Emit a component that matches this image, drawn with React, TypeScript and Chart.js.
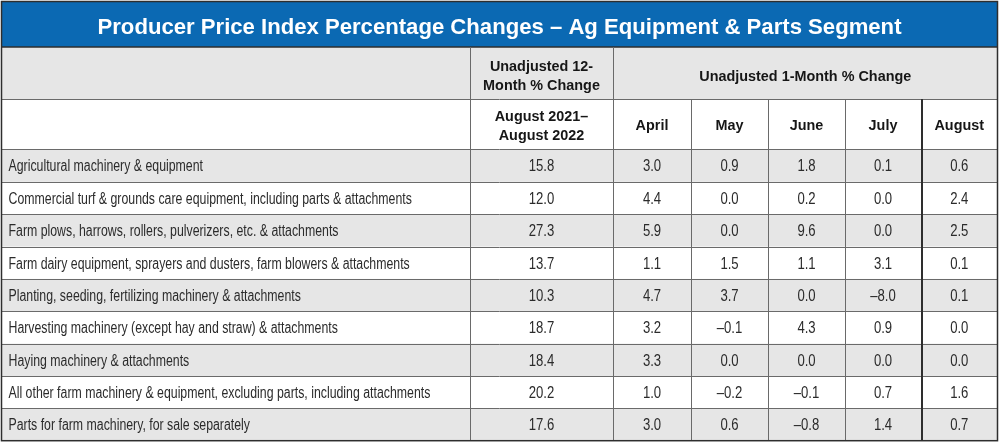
import React, { useEffect, useRef } from "react";
import { Chart, registerables } from "chart.js";

Chart.register(...registerables);

// ---------- data ----------
const TITLE = "Producer Price Index Percentage Changes \u2013 Ag Equipment & Parts Segment";
const HEADER_12M = ["Unadjusted 12-", "Month % Change"];
const HEADER_1M = "Unadjusted 1-Month % Change";
const PERIOD_12M = ["August 2021\u2013", "August 2022"];
const MONTHS = ["April", "May", "June", "July", "August"];

const CATEGORIES = [
  "Agricultural machinery & equipment",
  "Commercial turf & grounds care equipment, including parts & attachments",
  "Farm plows, harrows, rollers, pulverizers, etc. & attachments",
  "Farm dairy equipment, sprayers and dusters, farm blowers & attachments",
  "Planting, seeding, fertilizing machinery & attachments",
  "Harvesting machinery (except hay and straw) & attachments",
  "Haying machinery & attachments",
  "All other farm machinery & equipment, excluding parts, including attachments",
  "Parts for farm machinery, for sale separately",
];

const CHANGE_12M = [15.8, 12.0, 27.3, 13.7, 10.3, 18.7, 18.4, 20.2, 17.6];
const APRIL = [3.0, 4.4, 5.9, 1.1, 4.7, 3.2, 3.3, 1.0, 3.0];
const MAY = [0.9, 0.0, 0.0, 1.5, 3.7, -0.1, 0.0, -0.2, 0.6];
const JUNE = [1.8, 0.2, 9.6, 1.1, 0.0, 4.3, 0.0, -0.1, -0.8];
const JULY = [0.1, 0.0, 0.0, 3.1, -8.0, 0.9, 0.0, 0.7, 1.4];
const AUGUST = [0.6, 2.4, 2.5, 0.1, 0.1, 0.0, 0.0, 1.6, 0.7];

const VALUE_COLUMNS = [CHANGE_12M, APRIL, MAY, JUNE, JULY, AUGUST];
const VALUE_NAMES = ["12-Month", ...MONTHS];

// ---------- layout (pixels) ----------
const W = 1000;
const H = 443;
const COL_EDGES = [1.5, 470, 613, 691, 768, 845, 921, 997.5];
const TITLE_BOTTOM = 47;
const HEAD1_BOTTOM = 99;
const HEAD2_BOTTOM = 149.5;
const TABLE_BOTTOM = 440.7;
const TITLE_WIDTH = 804;

const BLUE = "#0b69b3";
const GRAY = "#e6e6e6";
const LINE = "#6a6a6a";
const DARK = "#2e2e2e";
const BODY_TEXT = "#2b2b2b";
const HEAD_TEXT = "#161616";
const FONT = "'Liberation Sans', Arial, sans-serif";

const fmt = (v: number) => {
  const s = Math.abs(v).toFixed(1);
  return v < 0 ? "\u2013" + s : s;
};

function drawText(
  ctx: CanvasRenderingContext2D,
  text: string,
  x: number,
  y: number,
  font: string,
  color: string,
  align: CanvasTextAlign,
  sx: number
) {
  ctx.save();
  ctx.font = font;
  ctx.fillStyle = color;
  ctx.textAlign = align;
  ctx.textBaseline = "alphabetic";
  ctx.translate(x, y);
  ctx.scale(sx, 1);
  ctx.fillText(text, 0, 0);
  ctx.restore();
}

const tablePlugin = {
  id: "tableDraw",
  beforeDraw(chart: any) {
    const ctx: CanvasRenderingContext2D = chart.ctx;
    ctx.save();
    ctx.fillStyle = "#ffffff";
    ctx.fillRect(0, 0, W, H);
    ctx.restore();
  },
  afterDatasetsDraw(chart: any) {
    const ctx: CanvasRenderingContext2D = chart.ctx;
    const xs = chart.scales.x;
    const ys = chart.scales.y;
    const px = (v: number) => xs.getPixelForValue(v);
    const left = px(COL_EDGES[0]);
    const right = px(COL_EDGES[COL_EDGES.length - 1]);
    const rowH = ys.getPixelForValue(1) - ys.getPixelForValue(0);

    ctx.save();
    // title band
    ctx.fillStyle = BLUE;
    ctx.fillRect(left, 1.5, right - left, TITLE_BOTTOM - 1.5);
    // header row 1
    ctx.fillStyle = GRAY;
    ctx.fillRect(left, TITLE_BOTTOM, right - left, HEAD1_BOTTOM - TITLE_BOTTOM);
    // data rows stripes
    CATEGORIES.forEach((_, i) => {
      if (i % 2 === 0) {
        const cy = ys.getPixelForValue(i);
        ctx.fillStyle = GRAY;
        ctx.fillRect(left, cy - rowH / 2, right - left, rowH);
      }
    });

    // horizontal lines
    const hline = (y: number, color: string, lw: number) => {
      ctx.beginPath();
      ctx.strokeStyle = color;
      ctx.lineWidth = lw;
      ctx.moveTo(left, y);
      ctx.lineTo(right, y);
      ctx.stroke();
    };
    hline(HEAD1_BOTTOM + 0.5, LINE, 1);
    hline(HEAD2_BOTTOM, LINE, 1);
    CATEGORIES.forEach((_, i) => {
      if (i > 0) {
        const cy = ys.getPixelForValue(i);
        hline(Math.round(cy - rowH / 2) + 0.5, LINE, 1);
      }
    });
    hline(TITLE_BOTTOM, DARK, 1.5);

    // vertical lines
    const vline = (x: number, y0: number, y1: number, color: string, lw: number) => {
      ctx.beginPath();
      ctx.strokeStyle = color;
      ctx.lineWidth = lw;
      ctx.moveTo(x, y0);
      ctx.lineTo(x, y1);
      ctx.stroke();
    };
    vline(px(COL_EDGES[1]) + 0.5, TITLE_BOTTOM, TABLE_BOTTOM, LINE, 1);
    vline(px(COL_EDGES[2]) + 0.5, TITLE_BOTTOM, TABLE_BOTTOM, LINE, 1);
    for (let c = 3; c < COL_EDGES.length - 2; c++) {
      vline(px(COL_EDGES[c]) + 0.5, HEAD1_BOTTOM, TABLE_BOTTOM, LINE, 1);
    }
    vline(px(COL_EDGES[COL_EDGES.length - 2]) + 1, HEAD1_BOTTOM, TABLE_BOTTOM, DARK, 2);

    // outer border
    ctx.strokeStyle = DARK;
    ctx.lineWidth = 1.5;
    ctx.strokeRect(left, 1.5, right - left, TABLE_BOTTOM - 1.5);
    ctx.restore();

    // title
    ctx.save();
    const titleFont = `bold 22px ${FONT}`;
    ctx.font = titleFont;
    const tw = ctx.measureText(TITLE).width;
    ctx.restore();
    drawText(ctx, TITLE, (left + right) / 2, 33.5, titleFont, "#ffffff", "center", TITLE_WIDTH / tw);

    // headers
    const headFont = `bold 15px ${FONT}`;
    const c12 = (px(COL_EDGES[1]) + px(COL_EDGES[2])) / 2;
    drawText(ctx, HEADER_12M[0], c12, 70.5, headFont, HEAD_TEXT, "center", 0.96);
    drawText(ctx, HEADER_12M[1], c12, 89.5, headFont, HEAD_TEXT, "center", 0.96);
    drawText(ctx, PERIOD_12M[0], c12, 121, headFont, HEAD_TEXT, "center", 0.96);
    drawText(ctx, PERIOD_12M[1], c12, 140, headFont, HEAD_TEXT, "center", 0.96);
    const c1m = (px(COL_EDGES[2]) + px(COL_EDGES[COL_EDGES.length - 1])) / 2;
    drawText(ctx, HEADER_1M, c1m, 80.5, headFont, HEAD_TEXT, "center", 0.96);
    MONTHS.forEach((m, k) => {
      const cx = (px(COL_EDGES[k + 2]) + px(COL_EDGES[k + 3])) / 2;
      drawText(ctx, m, cx, 130, headFont, HEAD_TEXT, "center", 0.96);
    });

    // row labels
    const bodyFont = `16px ${FONT}`;
    CATEGORIES.forEach((label, i) => {
      const cy = ys.getPixelForValue(i);
      drawText(ctx, label, left + 7, cy + 5.8, bodyFont, BODY_TEXT, "left", 0.77);
    });

    // values from the dataset elements
    VALUE_COLUMNS.forEach((vals, d) => {
      const meta = chart.getDatasetMeta(d);
      meta.data.forEach((el: any, i: number) => {
        drawText(ctx, fmt(vals[i]), el.x, el.y + 5.8, bodyFont, BODY_TEXT, "center", 0.82);
      });
    });
  },
};

export default function App() {
  const ref = useRef<HTMLCanvasElement>(null);

  useEffect(() => {
    document.body.style.margin = "0";
    const canvas = ref.current;
    if (!canvas) return;
    const colCenter = (c: number) => (COL_EDGES[c] + COL_EDGES[c + 1]) / 2;
    const chart = new Chart(canvas, {
      type: "scatter",
      data: {
        datasets: VALUE_COLUMNS.map((vals, d) => ({
          label: VALUE_NAMES[d],
          data: vals.map((v, i) => ({ x: colCenter(d + 1), y: CATEGORIES[i] as any, v })),
          pointRadius: 0,
          pointHoverRadius: 0,
          showLine: false,
        })),
      } as any,
      options: {
        responsive: false,
        animation: false,
        events: [],
        layout: { padding: { top: HEAD2_BOTTOM, bottom: H - TABLE_BOTTOM, left: 0, right: 0 } },
        plugins: {
          legend: { display: false },
          tooltip: { enabled: false },
        },
        scales: {
          x: { type: "linear", min: 0, max: W, display: false },
          y: { type: "category", labels: CATEGORIES, offset: true, display: false },
        },
      } as any,
      plugins: [tablePlugin],
    });
    return () => chart.destroy();
  }, []);

  return (
    <canvas
      ref={ref}
      width={W}
      height={H}
      style={{ display: "block", width: W, height: H }}
    />
  );
}
